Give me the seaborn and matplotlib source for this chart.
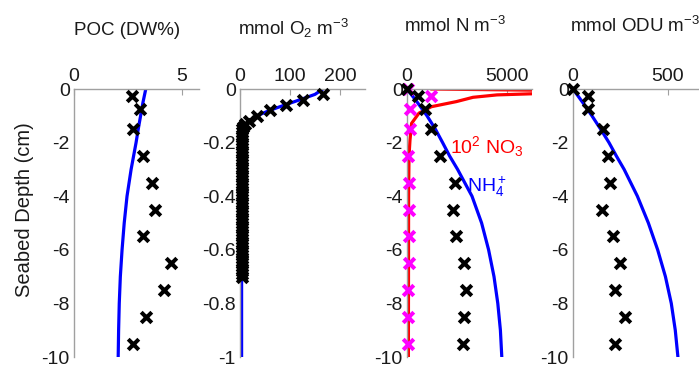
import numpy as np
import pandas as pd
import matplotlib.pyplot as plt
import seaborn as sns

# core sample depths (cm)
core_depth = [-0.25, -0.75, -1.5, -2.5, -3.5, -4.5, -5.5, -6.5, -7.5, -8.5, -9.5]
prof_depth = [0] + core_depth

# POC (DW%)
poc_obs = [2.67, 3.06, 2.74, 3.2, 3.63, 3.75, 3.2, 4.52, 4.18, 3.32, 2.75]
poc_mod_depth = [0, -0.5, -1, -1.5, -2, -3, -4, -5, -6, -7, -8, -9, -10]
poc_mod = [3.33, 3.2, 3.09, 2.98, 2.88, 2.65, 2.46, 2.33, 2.23, 2.15, 2.1, 2.07, 2.05]

# O2 microprofile
o2_obs_depth = [-0.02, -0.04, -0.06, -0.08, -0.10, -0.12,
                -0.13, -0.14, -0.15, -0.16, -0.17, -0.18, -0.19, -0.20,
                -0.21, -0.22, -0.23, -0.24, -0.25, -0.26, -0.27, -0.28,
                -0.29, -0.30, -0.31, -0.32, -0.33, -0.34, -0.35, -0.36,
                -0.37, -0.38, -0.39, -0.40, -0.41, -0.42, -0.43, -0.44,
                -0.45, -0.46, -0.47, -0.48, -0.49, -0.50, -0.51, -0.52,
                -0.53, -0.54, -0.55, -0.56, -0.57, -0.58, -0.59, -0.60,
                -0.61, -0.62, -0.63, -0.64, -0.65, -0.66, -0.67, -0.68,
                -0.69, -0.70]
o2_obs = [166, 125, 92, 60, 33, 17,
          9, 6, 4, 4, 3, 3, 4, 3,
          3, 3, 4, 3, 3, 3, 3, 4,
          3, 3, 3, 3, 4, 3, 3, 3,
          3, 4, 3, 3, 3, 3, 3, 4,
          3, 3, 3, 3, 3, 3, 4, 3,
          3, 3, 3, 3, 3, 4, 3, 3,
          3, 3, 3, 3, 4, 3, 3, 3,
          3, 3]
o2_mod_depth = [0, -0.02, -0.04, -0.06, -0.08, -0.10, -0.12, -0.14, -0.16, -0.20, -0.40, -0.70, -1.0]
o2_mod = [166, 150, 120, 89, 59, 34, 18, 8, 4.5, 3.6, 3.3, 3.2, 3.2]

# N species (mmol N m-3), NO3 scaled by 10^2
nh4_obs = [0, 560, 890, 1220, 1630, 2380, 2300, 2460, 2870, 2950, 2840, 2790]
no3_obs = [50, 1220, 150, 150, 70, 75, 80, 80, 75, 60, 70, 50]
nh4_mod_depth = [0, -0.5, -1, -1.5, -2, -2.5, -3, -4, -5, -6, -7, -8, -9, -10]
nh4_mod = [0, 520, 1000, 1420, 1780, 2130, 2530, 3250, 3730, 4080, 4350, 4540, 4670, 4740]
no3_mod_depth = [0, -0.05, -0.08, -0.12, -0.17, -0.22, -0.31, -0.47, -0.66, -0.90,
                 -1.28, -1.9, -2.5, -4, -10]
no3_mod = [1200, 7000, 9000, 8500, 6600, 4500, 3300, 2470, 1220, 600,
           230, 150, 100, 80, 70]

# ODU (mmol ODU m-3)
odu_obs = [0, 80, 80, 160, 186, 195, 151, 212, 247, 221, 274, 221]
odu_mod_depth = [0, -0.5, -1, -1.5, -2, -2.5, -3, -4, -5, -6, -7, -8, -9, -10]
odu_mod = [0, 51, 100, 146, 190, 229, 270, 340, 398, 447, 488, 519, 540, 554]

sns.set_style('white')
plt.rcParams['font.family'] = ['Liberation Sans', 'DejaVu Sans']
plt.rcParams['axes.unicode_minus'] = False
plt.rcParams['mathtext.fontset'] = 'custom'
plt.rcParams['mathtext.rm'] = 'Liberation Sans'
plt.rcParams['mathtext.it'] = 'Liberation Sans'

W, H = 699, 369
fig = plt.figure(figsize=(W / 100, H / 100), dpi=100)
lefts = [74, 240, 407, 573]
axes = [fig.add_axes([l / W, 12 / H, 125 / W, 268 / H]) for l in lefts]

grey = '#a0a0a0'
fs = 14


def style(ax, xlim, xticks, ylim, yticks, ylabels):
    ax.set_xlim(xlim)
    ax.set_ylim(ylim)
    ax.xaxis.tick_top()
    ax.set_xticks(xticks)
    ax.set_xticklabels([str(t) for t in xticks])
    ax.set_yticks(yticks)
    ax.set_yticklabels(ylabels)
    for s in ['right', 'bottom']:
        ax.spines[s].set_visible(False)
    for s in ['top', 'left']:
        ax.spines[s].set_color(grey)
        ax.spines[s].set_linewidth(1.0)
    ax.tick_params(direction='in', length=4, width=0.8, color=grey,
                   labelsize=fs, labelcolor='#1a1a1a', pad=3)
    ax.grid(False)


lw = 2.3
ms = 58
mew = 2.9

# POC
ax = axes[0]
sns.lineplot(x=poc_mod, y=poc_mod_depth, sort=False, estimator=None,
             color='#0000ff', lw=lw, ax=ax)
sns.scatterplot(x=poc_obs, y=core_depth, marker='x', color='k', s=ms,
                linewidth=mew, ax=ax, zorder=3, clip_on=False)
style(ax, (0, 5.8), [0, 5], (-10, 0), [0, -2, -4, -6, -8, -10],
      ['0', '-2', '-4', '-6', '-8', '-10'])

# O2
ax = axes[1]
sns.lineplot(x=o2_mod, y=o2_mod_depth, sort=False, estimator=None,
             color='#0000ff', lw=lw, ax=ax)
sns.scatterplot(x=o2_obs, y=o2_obs_depth, marker='x', color='k', s=ms,
                linewidth=mew, ax=ax, zorder=3, clip_on=False)
style(ax, (0, 250), [0, 100, 200], (-1, 0), [0, -0.2, -0.4, -0.6, -0.8, -1],
      ['0', '-0.2', '-0.4', '-0.6', '-0.8', '-1'])

# N
ax = axes[2]
sns.lineplot(x=no3_mod, y=no3_mod_depth, sort=False, estimator=None,
             color='#ff0000', lw=lw, ax=ax)
sns.lineplot(x=nh4_mod, y=nh4_mod_depth, sort=False, estimator=None,
             color='#0000ff', lw=lw, ax=ax)
sns.scatterplot(x=no3_obs, y=prof_depth, marker='x', color='#ff00ff', s=ms,
                linewidth=mew, ax=ax, zorder=3, clip_on=False)
sns.scatterplot(x=nh4_obs, y=prof_depth, marker='x', color='k', s=ms,
                linewidth=mew, ax=ax, zorder=4, clip_on=False)
style(ax, (0, 6250), [0, 5000], (-10, 0), [0, -2, -4, -6, -8, -10],
      ['0', '-2', '-4', '-6', '-8', '-10'])
ax.text(2130, -2.39, '10$^2$ NO$_3$', color='#ff0000', fontsize=fs,
        ha='left', va='baseline')
ax.text(3020, -3.84, 'NH$_4^+$', color='#0000ff', fontsize=fs,
        ha='left', va='baseline')

# ODU
ax = axes[3]
sns.lineplot(x=odu_mod, y=odu_mod_depth, sort=False, estimator=None,
             color='#0000ff', lw=lw, ax=ax)
sns.scatterplot(x=odu_obs, y=prof_depth, marker='x', color='k', s=ms,
                linewidth=mew, ax=ax, zorder=3, clip_on=False)
style(ax, (0, 660), [0, 500], (-10, 0), [0, -2, -4, -6, -8, -10],
      ['0', '-2', '-4', '-6', '-8', '-10'])

# titles
titles = ['POC (DW%)', 'mmol O$_2$ m$^{-3}$', 'mmol N m$^{-3}$', 'mmol ODU m$^{-3}$']
tx = [127, 293, 455, 635]
ty = [35, 35, 32, 32]
for t, x, y in zip(titles, tx, ty):
    fig.text(x / W, 1 - y / H, t, ha='center', va='baseline', fontsize=13.5,
             color='#1a1a1a')

fig.text(25 / W, 1 - 210 / H, 'Seabed Depth (cm)', rotation=90,
         ha='center', va='center', fontsize=14.5, color='#1a1a1a')

fig.savefig('out.png', dpi=100)
